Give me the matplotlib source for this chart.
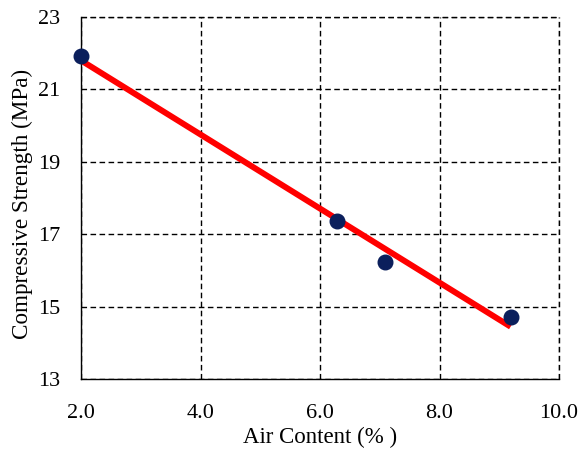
import numpy as np
import matplotlib
matplotlib.use("Agg")
import matplotlib.pyplot as plt

air_content = [2.0, 6.29, 7.09, 9.19]
strength = [21.92, 17.37, 16.24, 14.72]
x_ticks = [2.0, 4.0, 6.0, 8.0, 10.0]
y_ticks = [13, 15, 17, 19, 21, 23]

plt.rcParams['font.family'] = ['Liberation Serif', 'DejaVu Serif']

fig = plt.figure(figsize=(5.8, 4.5), dpi=100)
ax = fig.add_axes([0.1397, 0.1578, 0.8241, 0.8044])

coef = np.polyfit(air_content, strength, 1)
xl = np.array([min(air_content), max(air_content)])
ax.plot(xl, np.polyval(coef, xl), color='#ff0000', lw=4.3, zorder=3, solid_capstyle='butt')
ax.scatter(air_content, strength, s=110, color='#0b1f5c', zorder=4, clip_on=False)

ax.set_xlim(2, 10)
ax.set_ylim(13, 23)
ax.set_xticks(x_ticks)
ax.set_xticklabels([f"{v:.1f}" for v in x_ticks])
ax.set_yticks(y_ticks)
dash = (0, (4, 2.5))
ax.grid(True, color='black', linestyle=dash, linewidth=1.0)
ax.axvline(10, color='black', linestyle=dash, linewidth=1.0, clip_on=False, zorder=1)
ax.axhline(23, color='black', linestyle=dash, linewidth=1.0, clip_on=False, zorder=1)
ax.set_axisbelow(True)
ax.spines['top'].set_visible(False)
ax.spines['right'].set_visible(False)
ax.spines['left'].set_linewidth(1.0)
ax.spines['bottom'].set_linewidth(1.0)
ax.tick_params(length=0, labelsize=16)
ax.tick_params(axis='x', pad=18)
ax.tick_params(axis='y', pad=15)

fig.text(320 / 580, 1 - 437 / 450, "Air Content (% )", fontsize=16.5, ha='center', va='center')
fig.text(22 / 580, 1 - 204 / 450, "Compressive Strength (MPa)", fontsize=16.7,
         rotation=90, ha='center', va='center')

fig.savefig("out.png", dpi=100)
